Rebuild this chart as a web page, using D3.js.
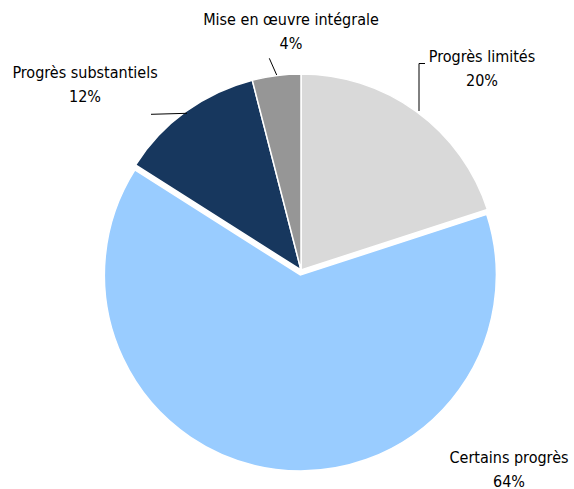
<!DOCTYPE html>
<html><head><meta charset="utf-8">
<script src="https://cdn.jsdelivr.net/npm/d3@7"></script>
<style>body{margin:0;background:#fff}svg{display:block}text{font-family:"Liberation Sans Narrow","DejaVu Sans Condensed",sans-serif;font-size:16px;fill:#000}</style>
</head><body>
<script>
const categories = ["Progrès limités", "Certains progrès", "Progrès substantiels", "Mise en œuvre intégrale"];
const values = [20, 64, 12, 4];
const valueLabels = ["20%", "64%", "12%", "4%"];
const colors = ["#d9d9d9", "#99ccff", "#17375e", "#969696"];

const W = 574, H = 489, cx = 301, cy = 270, R = 196;
const svg = d3.select("body").append("svg").attr("width", W).attr("height", H);
const g = svg.append("g").attr("transform", `translate(${cx},${cy})`);

const pie = d3.pie().sort(null).value(d => d.v).startAngle(0).endAngle(2*Math.PI);
const data = pie(categories.map((c,i)=>({c, v: values[i], l: valueLabels[i], col: colors[i], i})));
const arc = d3.arc().innerRadius(0).outerRadius(R);
const explode = [0, 5, 0, 0];

g.selectAll("path").data(data).enter().append("path")
  .attr("d", arc)
  .attr("fill", d => d.data.col)
  .attr("stroke", "#fff").attr("stroke-width", 1.5).attr("stroke-linejoin","miter")
  .attr("transform", d => {
    const m = (d.startAngle + d.endAngle)/2, e = explode[d.data.i];
    return `translate(${e*Math.sin(m)},${-e*Math.cos(m)})`;
  });

// label layout (absolute positions)
const labelPos = [
  {x: 482, y: 62, line: [[419,111],[419,63.5],[425,63.5]]},
  {x: 509, y: 463, line: null},
  {x: 85, y: 78, line: [[151,114.3],[187,113.3]]},
  {x: 291, y: 25, line: [[269.3,58.3],[276.7,75]]}
];
data.forEach((d,i) => {
  const p = labelPos[i];
  const t = svg.append("text").attr("text-anchor","middle");
  t.append("tspan").attr("x", p.x).attr("y", p.y).text(d.data.c);
  t.append("tspan").attr("x", p.x).attr("y", p.y + 23.5).text(d.data.l);
  if (p.line) svg.append("path").attr("d", d3.line()(p.line)).attr("fill","none").attr("stroke","#000").attr("stroke-width",1);
});
</script>
</body></html>
